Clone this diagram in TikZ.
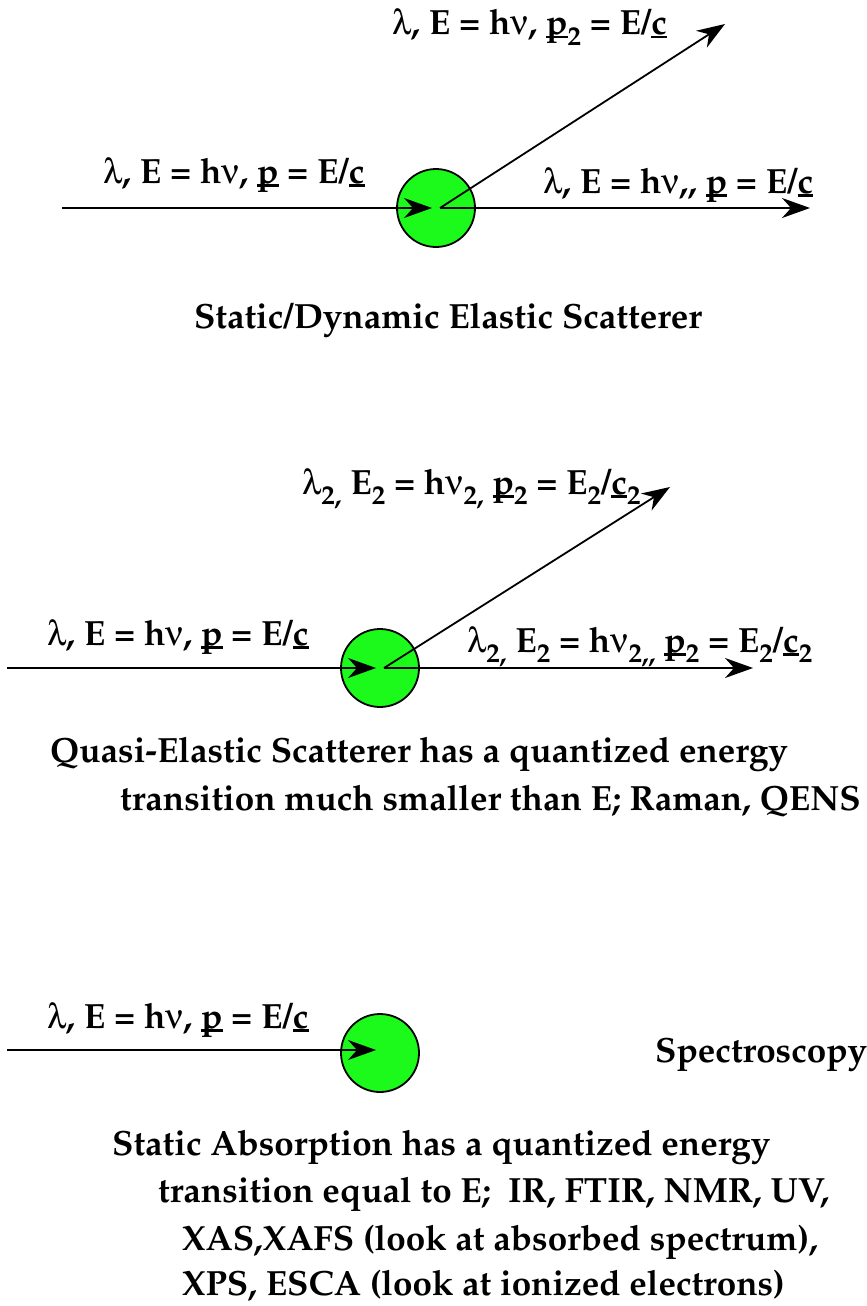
\documentclass[tikz,border=0pt]{standalone}
\usepackage[T1]{fontenc}
\usepackage{mathpazo}
\usepackage[Symbol]{upgreek}
\usetikzlibrary{arrows.meta}
\definecolor{ballgreen}{RGB}{28,250,28}
\newcommand\ulp[1]{\setbox0\hbox{#1}\rlap{\rule[-0.1em]{\wd0}{0.06em}}\box0\relax}
\newcommand\sbs[1]{\raisebox{-0.3em}{\fontsize{27}{27}\selectfont #1}}
\newcommand\lam{$\uplambda$}
\newcommand\nuu{$\upnu$}
\tikzset{
  lbl/.style={anchor=base west, inner sep=0, font=\fontsize{35}{40}\selectfont\bfseries\boldmath},
  ttl/.style={anchor=base, inner sep=0, font=\fontsize{35}{40}\selectfont\bfseries\boldmath},
  ball/.style={circle, draw=black, line width=1.8pt, fill=ballgreen, minimum size=78pt, inner sep=0},
  arr/.style={line width=1.8pt, -{Stealth[length=28pt,width=20pt,inset=9pt]}}
}
\begin{document}
\begin{tikzpicture}[x=1pt,y=-1pt]
\useasboundingbox (0,0) rectangle (867,1306);
% ---------- section 1
\node[ball] (c1) at (436,208) {};
\coordinate (s1) at (62,208);
\coordinate (h1) at (810,208);
\coordinate (d1) at (725,24);
\draw[arr] (s1) -- ([xshift=-4pt]c1.center);
\draw[arr] ([xshift=4pt]c1.center) -- (h1);
\draw[arr] ([xshift=4pt]c1.center) -- (d1);
\node[lbl] (l1a) at (392,35) {\lam, E = h\nuu, \ulp{p}\sbs{2} = E/\ulp{c}};
\node[lbl] (l1b) at (103,183) {\lam, E = h\nuu, \ulp{p} = E/\ulp{c}};
\node[lbl] (l1c) at (543,193) {\lam, E = h\nuu,{},\ \ulp{p} = E/\ulp{c}};
\node[ttl] (t1) at (448,328) {Static/Dynamic Elastic Scatterer};
% ---------- section 2
\node[ball] (c2) at (380,668) {};
\coordinate (s2) at (7,668);
\coordinate (h2) at (753,668);
\coordinate (d2) at (670,487);
\draw[arr] (s2) -- ([xshift=-4pt]c2.center);
\draw[arr] ([xshift=4pt]c2.center) -- (h2);
\draw[arr] ([xshift=4pt]c2.center) -- (d2);
\node[lbl] (l2a) at (302,494) {\lam\sbs{2,} E\sbs{2} = h\nuu\sbs{2,} \ulp{p}\sbs{2} = E\sbs{2}/\ulp{c}\sbs{2}};
\node[lbl] (l2b) at (47,645) {\lam, E = h\nuu, \ulp{p} = E/\ulp{c}};
\node[lbl] (l2c) at (467,652) {\lam\sbs{2,} E\sbs{2} = h\nuu\sbs{2,{},} \ulp{p}\sbs{2} = E\sbs{2}/\ulp{c}\sbs{2}};
\node[lbl] (t2a) at (50,762) {Quasi-Elastic Scatterer has a quantized energy};
\node[lbl] (t2b) at (120,810) {transition much smaller than E; Raman, QENS};
% ---------- section 3
\node[ball] (c3) at (380,1053) {};
\coordinate (s3) at (7,1050);
\draw[arr] (s3) -- ([xshift=-4pt,yshift=3pt]c3.center);
\node[lbl] (l3) at (47,1028) {\lam, E = h\nuu, \ulp{p} = E/\ulp{c}};
\node[lbl] (sp) at (655,1062) {Spectroscopy};
\node[lbl] (t3a) at (112,1155) {Static Absorption has a quantized energy};
\node[lbl] (t3b) at (158,1202) {transition equal to E;\ \ IR, FTIR, NMR, UV,};
\node[lbl] (t3c) at (182,1250) {XAS,XAFS (look at absorbed spectrum),};
\node[lbl] (t3d) at (182,1295) {XPS, ESCA (look at ionized electrons)};
\end{tikzpicture}
\end{document}
